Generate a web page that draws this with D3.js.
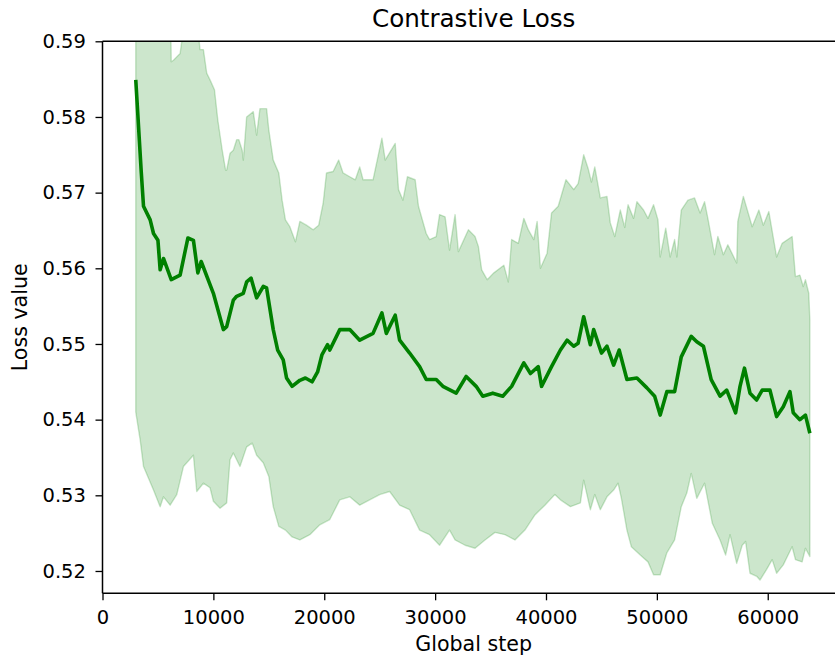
<!DOCTYPE html>
<html>
<head>
<meta charset="utf-8">
<script src="https://cdn.jsdelivr.net/npm/d3@7"></script>
<style>
  html, body { margin: 0; padding: 0; background: #fff; }
  svg { display: block; font-family: "DejaVu Sans", sans-serif; }
</style>
</head>
<body>
<svg id="chart" width="835" height="662"></svg>
<script>
// Running mean of the contrastive loss per global step
const meanSteps = [3000,3500,3700,4300,4600,5000,5200,5500,6200,7000,7700,8200,8600,8900,10000,10900,11200,11800,12100,12700,13000,13400,13900,14500,14800,15400,15800,16300,16600,17100,17800,18300,18900,19400,19800,20300,20500,21400,22300,23200,24400,25200,25600,26400,26800,27700,28600,29200,30100,30700,31900,32800,33700,34300,35200,36100,36900,38000,38600,39300,39600,40500,41300,41900,42500,42900,43400,44000,44300,45000,45500,46100,46600,47300,48200,49100,49800,50300,50900,51600,52200,53100,53600,54200,54900,55700,56300,57100,57500,57900,58400,59000,59500,60200,60800,61400,62000,62300,62900,63400,63800];
const meanValues = [0.5849,0.5726,0.5682,0.5664,0.5646,0.5637,0.5598,0.5613,0.5585,0.5591,0.5640,0.5637,0.5594,0.5609,0.5567,0.5519,0.5523,0.5558,0.5563,0.5567,0.5582,0.5587,0.5561,0.5576,0.5574,0.5519,0.5492,0.5479,0.5455,0.5444,0.5452,0.5455,0.5450,0.5463,0.5486,0.5499,0.5492,0.5519,0.5519,0.5505,0.5514,0.5541,0.5514,0.5538,0.5505,0.5488,0.5470,0.5453,0.5453,0.5444,0.5435,0.5457,0.5444,0.5431,0.5435,0.5431,0.5444,0.5475,0.5461,0.5470,0.5444,0.5470,0.5492,0.5505,0.5497,0.5501,0.5536,0.5499,0.5519,0.5488,0.5497,0.5472,0.5492,0.5453,0.5455,0.5442,0.5431,0.5406,0.5437,0.5437,0.5483,0.5510,0.5503,0.5497,0.5453,0.5431,0.5439,0.5409,0.5444,0.5468,0.5435,0.5426,0.5439,0.5439,0.5404,0.5417,0.5437,0.5409,0.5400,0.5406,0.5382];

// Upper edge of the spread band
const upperSteps = [3000,6100,6200,6400,7000,7200,7400,8500,8800,9100,9400,9700,10100,10400,10800,11100,11200,11500,11800,12100,12300,12600,12700,13000,13600,13900,14200,14800,15000,15400,15900,16200,16500,16900,17400,17800,18400,19000,19500,19900,20200,20800,21300,21700,22300,22800,23200,23500,24400,25200,25500,26400,26700,27100,27500,28200,28500,29200,29500,30100,30400,30900,31300,31800,32100,33000,33600,33900,34200,34700,35300,36200,36600,36900,37500,38000,38400,38900,39200,39500,40100,40500,41100,41800,42500,42900,43400,43800,44100,44400,44900,45500,45800,46200,46700,47100,47400,47900,48200,48800,49200,49700,50100,50300,50800,51200,51600,51800,52200,52800,53400,53900,54300,54600,55200,55500,56000,56400,57200,57300,57800,58600,59200,59600,60100,60800,61300,62200,62500,62900,63200,63400,63700,63800];
const upperValues = [0.6000,0.6000,0.5873,0.5875,0.5884,0.5905,0.5930,0.5930,0.5889,0.5889,0.5858,0.5849,0.5836,0.5796,0.5756,0.5730,0.5730,0.5752,0.5756,0.5770,0.5770,0.5756,0.5743,0.5800,0.5807,0.5776,0.5811,0.5811,0.5783,0.5743,0.5726,0.5690,0.5664,0.5655,0.5635,0.5662,0.5657,0.5651,0.5657,0.5686,0.5726,0.5728,0.5743,0.5726,0.5721,0.5717,0.5734,0.5717,0.5717,0.5772,0.5743,0.5765,0.5704,0.5690,0.5721,0.5717,0.5682,0.5646,0.5638,0.5642,0.5671,0.5668,0.5624,0.5671,0.5622,0.5651,0.5642,0.5629,0.5598,0.5585,0.5594,0.5604,0.5582,0.5638,0.5633,0.5666,0.5651,0.5638,0.5662,0.5600,0.5620,0.5673,0.5682,0.5717,0.5704,0.5712,0.5750,0.5732,0.5714,0.5734,0.5693,0.5695,0.5660,0.5642,0.5677,0.5654,0.5684,0.5666,0.5688,0.5677,0.5666,0.5684,0.5664,0.5615,0.5653,0.5615,0.5638,0.5615,0.5677,0.5690,0.5693,0.5673,0.5688,0.5666,0.5618,0.5642,0.5618,0.5631,0.5607,0.5662,0.5695,0.5655,0.5677,0.5657,0.5675,0.5615,0.5633,0.5642,0.5589,0.5591,0.5576,0.5585,0.5567,0.5531];

// Lower edge of the spread band
const lowerSteps = [3000,3400,3700,4600,5200,5500,6100,6700,7300,8200,8500,9100,9700,10000,10600,11200,11500,11800,12400,13000,13500,13900,14500,15000,15400,15900,16500,17100,17800,18700,19600,20500,21400,22300,23200,24100,25000,25900,26800,27700,28600,29500,30400,31300,31800,32700,33600,34500,35400,36300,37200,38100,39000,39900,40800,41300,42200,43100,43400,44000,44400,44900,45500,46100,46500,46800,47300,47700,48500,49200,49700,50300,50900,51600,52200,52700,53100,53600,54300,55000,55700,56200,56600,57200,57700,58000,58400,59000,59300,59900,60400,60800,61400,62200,62500,63100,63400,63800];
const lowerValues = [0.5410,0.5373,0.5338,0.5307,0.5285,0.5298,0.5287,0.5301,0.5338,0.5353,0.5305,0.5316,0.5310,0.5292,0.5283,0.5290,0.5347,0.5356,0.5338,0.5364,0.5369,0.5353,0.5343,0.5325,0.5285,0.5259,0.5254,0.5245,0.5241,0.5248,0.5261,0.5268,0.5294,0.5298,0.5287,0.5294,0.5301,0.5305,0.5287,0.5281,0.5254,0.5248,0.5234,0.5254,0.5241,0.5234,0.5230,0.5241,0.5251,0.5248,0.5241,0.5254,0.5274,0.5287,0.5301,0.5294,0.5285,0.5290,0.5320,0.5281,0.5301,0.5281,0.5298,0.5307,0.5316,0.5296,0.5254,0.5232,0.5221,0.5212,0.5195,0.5195,0.5224,0.5241,0.5285,0.5303,0.5329,0.5296,0.5316,0.5263,0.5241,0.5221,0.5248,0.5210,0.5234,0.5239,0.5197,0.5193,0.5188,0.5202,0.5215,0.5197,0.5208,0.5232,0.5215,0.5212,0.5230,0.5219];

const xTicks = [0, 10000, 20000, 30000, 40000, 50000, 60000];
const yTicks = [0.52, 0.53, 0.54, 0.55, 0.56, 0.57, 0.58, 0.59];
const xDomain = [0, 66950];
const yDomain = [0.51705, 0.59];

const titleText = "Contrastive Loss";
const xLabelText = "Global step";
const yLabelText = "Loss value";

const plot = { left: 102.5, right: 844.8, top: 41.3, bottom: 593.3 };
const green = "#008000";

const svg = d3.select("#chart");

const x = d3.scaleLinear().domain(xDomain).range([plot.left, plot.right]);
const y = d3.scaleLinear().domain(yDomain).range([plot.bottom, plot.top]);

svg.append("defs").append("clipPath").attr("id", "plot-clip")
  .append("rect")
  .attr("x", plot.left).attr("y", plot.top)
  .attr("width", plot.right - plot.left).attr("height", plot.bottom - plot.top);

const layer = svg.append("g").attr("clip-path", "url(#plot-clip)");

// Band: upper edge forward, lower edge backward, closed
const upperPts = upperSteps.map((s, i) => [s, upperValues[i]]);
const lowerPts = lowerSteps.map((s, i) => [s, lowerValues[i]]);
const bandPts = upperPts.concat(lowerPts.slice().reverse());
const pathLine = d3.line().x(d => x(d[0])).y(d => y(d[1]));

layer.append("path")
  .attr("d", pathLine(bandPts) + "Z")
  .attr("fill", green)
  .attr("fill-opacity", 0.2)
  .attr("stroke", green)
  .attr("stroke-opacity", 0.2)
  .attr("stroke-width", 1.4)
  .attr("stroke-linejoin", "round");

// Mean curve
const meanPts = meanSteps.map((s, i) => [s, meanValues[i]]);
layer.append("path")
  .attr("d", pathLine(meanPts))
  .attr("fill", "none")
  .attr("stroke", green)
  .attr("stroke-width", 3.6)
  .attr("stroke-linejoin", "round")
  .attr("stroke-linecap", "butt");

// Axes
const fontSize = 19.5;
const xAxis = d3.axisBottom(x).tickValues(xTicks).tickFormat(d3.format("d"))
  .tickSize(7).tickSizeOuter(0).tickPadding(9.6);
const yAxis = d3.axisLeft(y).tickValues(yTicks).tickFormat(d3.format(".2f"))
  .tickSize(7).tickSizeOuter(0).tickPadding(9.6);

const gx = svg.append("g").attr("transform", `translate(0,${plot.bottom})`).call(xAxis);
const gy = svg.append("g").attr("transform", `translate(${plot.left},0)`).call(yAxis);

[gx, gy].forEach(g => {
  g.select(".domain").remove();
  g.selectAll(".tick line").attr("stroke", "#000").attr("stroke-width", 1.3);
  g.selectAll(".tick text")
    .attr("fill", "#000")
    .style("font-size", fontSize + "px")
    .style("font-family", "'DejaVu Sans', sans-serif");
});

// Spines
const spines = svg.append("g").attr("stroke", "#000").attr("stroke-width", 1.5).attr("fill", "none");
spines.append("line").attr("x1", plot.left).attr("x2", plot.left).attr("y1", plot.top).attr("y2", plot.bottom);
spines.append("line").attr("x1", plot.left).attr("x2", plot.right).attr("y1", plot.bottom).attr("y2", plot.bottom);
spines.append("line").attr("x1", plot.left).attr("x2", plot.right).attr("y1", plot.top).attr("y2", plot.top);
spines.append("line").attr("x1", plot.right).attr("x2", plot.right).attr("y1", plot.top).attr("y2", plot.bottom);

const cx = (plot.left + plot.right) / 2;
const cy = (plot.top + plot.bottom) / 2;

svg.append("text")
  .attr("x", cx).attr("y", 26.7)
  .attr("text-anchor", "middle")
  .attr("fill", "#000")
  .style("font-size", "24.6px")
  .text(titleText);

svg.append("text")
  .attr("x", cx).attr("y", 651)
  .attr("text-anchor", "middle")
  .attr("fill", "#000")
  .style("font-size", "20.6px")
  .text(xLabelText);

svg.append("text")
  .attr("transform", `translate(26.5,${cy}) rotate(-90)`)
  .attr("text-anchor", "middle")
  .attr("fill", "#000")
  .style("font-size", "20.6px")
  .text(yLabelText);
</script>
</body>
</html>
